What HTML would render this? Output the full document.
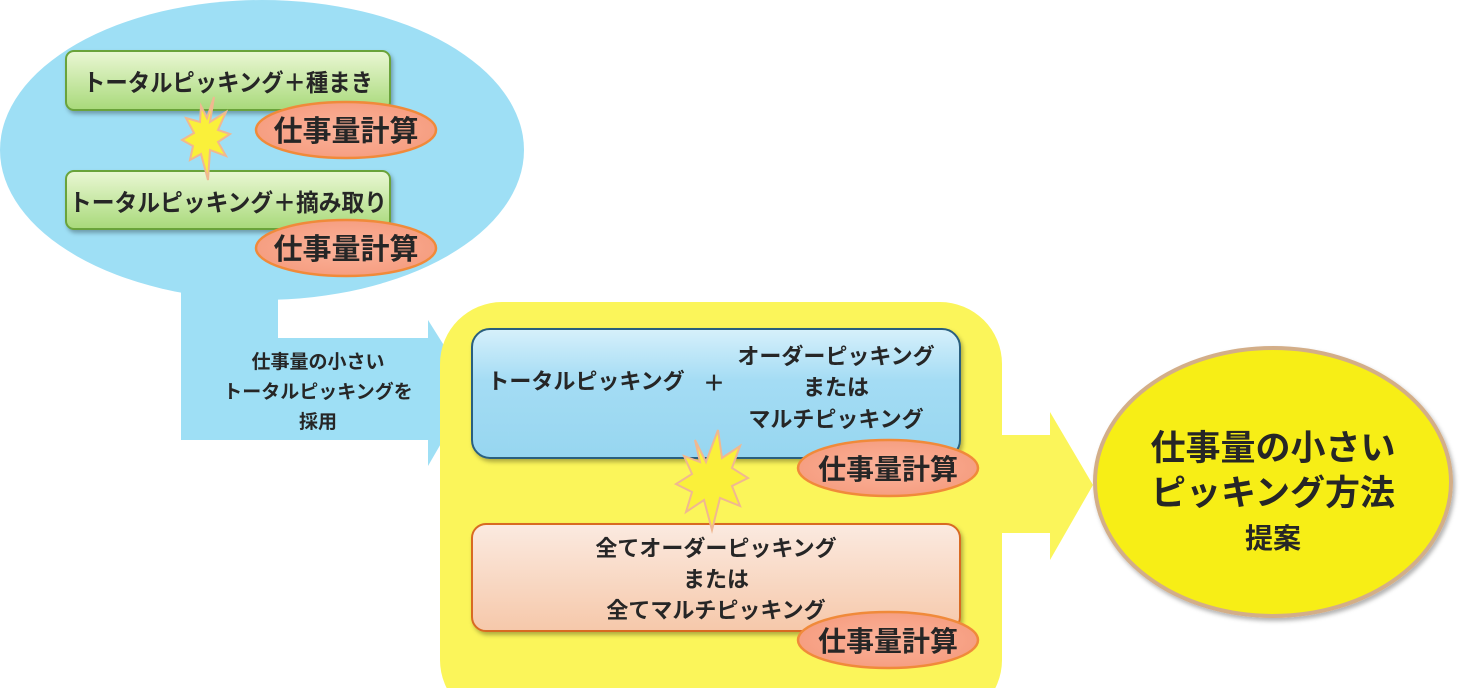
<!DOCTYPE html>
<html><head><meta charset="utf-8"><style>
html,body{margin:0;padding:0;background:#fff;}
svg{display:block;}
text{font-family:"Liberation Sans","Noto Sans CJK JP",sans-serif;font-weight:bold;fill:#262626;}
</style></head><body>
<svg width="1464" height="688" viewBox="0 0 1464 688" xmlns="http://www.w3.org/2000/svg">
<defs>
<linearGradient id="gg" x1="0" y1="0" x2="0" y2="1"><stop offset="0" stop-color="#eaf7d4"/><stop offset="1" stop-color="#a8d97a"/></linearGradient>
<linearGradient id="bg" x1="0" y1="0" x2="0" y2="1"><stop offset="0" stop-color="#d6f0fb"/><stop offset="0.4" stop-color="#a4dcf4"/><stop offset="1" stop-color="#97d6f0"/></linearGradient>
<linearGradient id="pg" x1="0" y1="0" x2="0" y2="1"><stop offset="0" stop-color="#fbeae0"/><stop offset="1" stop-color="#f6c8aa"/></linearGradient>
<radialGradient id="og" cx="0.5" cy="0.5" r="0.6"><stop offset="0" stop-color="#fbb39b"/><stop offset="1" stop-color="#f59a7c"/></radialGradient>
<filter id="sh" x="-10%" y="-10%" width="130%" height="140%"><feDropShadow dx="2" dy="3" stdDeviation="2" flood-color="#000" flood-opacity="0.3"/></filter>
</defs>
<ellipse cx="262" cy="150" rx="262" ry="150" fill="#9edff5"/>
<polygon points="181,260 278,260 278,338 428,338 428,320 472,390 428,466 428,440 181,440" fill="#9edff5"/>
<text x="318" y="368" font-size="19" text-anchor="middle">仕事量の小さい</text>
<text x="318" y="398" font-size="19" text-anchor="middle">トータルピッキングを</text>
<text x="318" y="428" font-size="19" text-anchor="middle">採用</text>
<rect x="66" y="51" width="324" height="59" rx="8" fill="url(#gg)" stroke="#6aa33a" stroke-width="2" filter="url(#sh)"/>
<text x="228" y="91" font-size="24" text-anchor="middle" textLength="290" lengthAdjust="spacingAndGlyphs">トータルピッキング＋種まき</text>
<rect x="66" y="171" width="324" height="58" rx="8" fill="url(#gg)" stroke="#6aa33a" stroke-width="2" filter="url(#sh)"/>
<text x="228" y="211" font-size="24" text-anchor="middle" textLength="318" lengthAdjust="spacingAndGlyphs">トータルピッキング＋摘み取り</text>
<ellipse cx="346" cy="130" rx="90" ry="28" fill="url(#og)" stroke="#f08a3a" stroke-width="2.5"/>
<text x="346" y="141" font-size="29" text-anchor="middle">仕事量計算</text>
<ellipse cx="346" cy="248" rx="90" ry="28" fill="url(#og)" stroke="#f08a3a" stroke-width="2.5"/>
<text x="346" y="259" font-size="29" text-anchor="middle">仕事量計算</text>
<polygon points="214,97 210,122 226,112 218,130 230,134 218,142 226,156 210,150 208,180 201,154 190,160 193,146 182,140 194,133 186,118 200,122 201,106 207,118" fill="#faf03a" stroke="#f0b890" stroke-width="2"/>
<rect x="440" y="302" width="562" height="420" rx="62" fill="#fbf55a"/>
<polygon points="1000,435 1050,435 1050,412 1093,485 1050,560 1050,533 1000,533" fill="#fbf55a"/>
<rect x="472" y="329" width="488" height="129" rx="18" fill="url(#bg)" stroke="#2a5f7e" stroke-width="2" filter="url(#sh)"/>
<text x="586" y="389" font-size="22" text-anchor="middle">トータルピッキング</text>
<text x="714" y="391" font-size="22" text-anchor="middle">＋</text>
<text x="836" y="364" font-size="22" text-anchor="middle">オーダーピッキング</text>
<text x="836" y="395" font-size="22" text-anchor="middle">または</text>
<text x="836" y="427" font-size="22" text-anchor="middle">マルチピッキング</text>
<rect x="472" y="524" width="488" height="107" rx="14" fill="url(#pg)" stroke="#d86a22" stroke-width="2" filter="url(#sh)"/>
<text x="716" y="556" font-size="22" text-anchor="middle">全てオーダーピッキング</text>
<text x="716" y="587" font-size="22" text-anchor="middle">または</text>
<text x="716" y="618" font-size="22" text-anchor="middle">全てマルチピッキング</text>
<ellipse cx="888" cy="468" rx="90" ry="28" fill="url(#og)" stroke="#f08a3a" stroke-width="2.5"/>
<text x="888" y="479" font-size="28" text-anchor="middle">仕事量計算</text>
<ellipse cx="888" cy="640" rx="90" ry="28" fill="url(#og)" stroke="#f08a3a" stroke-width="2.5"/>
<text x="888" y="651" font-size="28" text-anchor="middle">仕事量計算</text>
<polygon points="695,440 706,462 718,430 722,458 740,446 732,468 748,478 732,486 740,506 720,498 712,530 704,500 686,512 692,492 676,484 692,474 684,456 700,462" fill="#faf03a" stroke="#f0b890" stroke-width="2"/>
<ellipse cx="1273" cy="482" rx="178" ry="134" fill="#f7ee14" stroke="#d3ae88" stroke-width="4" filter="url(#sh)"/>
<text x="1273" y="460" font-size="35" text-anchor="middle">仕事量の小さい</text>
<text x="1273" y="505" font-size="35" text-anchor="middle">ピッキング方法</text>
<text x="1273" y="548" font-size="28" text-anchor="middle">提案</text>
</svg>
</body></html>
